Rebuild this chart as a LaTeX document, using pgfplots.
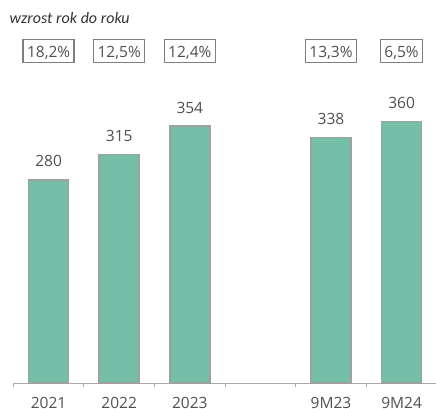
\documentclass[border=0pt]{standalone}
\usepackage{pgfplots}
\pgfplotsset{compat=1.18}
\usepackage{fontspec}
\setmainfont{Open Sans}
\newfontfamily\calfont{Carlito}
\definecolor{barfill}{RGB}{117,190,167}
\definecolor{bargray}{RGB}{160,160,160}
\definecolor{txtgray}{RGB}{80,80,80}
\definecolor{boxgray}{RGB}{127,127,127}
\definecolor{axgray}{RGB}{170,170,170}
\begin{document}
\begin{tikzpicture}
\useasboundingbox (0,0) rectangle (436pt,408pt);
\node[anchor=base west, inner sep=0pt, text=black!80] at (9.5pt,384pt) {\calfont\itshape\fontsize{16pt}{19pt}\selectfont wzrost rok do roku};
\begin{axis}[
  at={(13.3pt,25pt)}, anchor=south west,
  scale only axis, width=423.6pt, height=362.9pt,
  xmin=-0.5, xmax=5.5, ymin=0, ymax=500,
  axis x line*=bottom, axis y line=none,
  x axis line style={axgray, line width=0.9pt},
  xtick={0,1,2,3,4,5},
  xticklabels={2021,2022,2023,,9M23,9M24},
  major tick length=0pt,
  minor xtick={-0.5,0.5,1.5,2.5,3.5,4.5,5.5},
  minor tick length=4pt,
  tick align=outside,
  minor tick style={axgray, line width=0.9pt},
  xticklabel style={anchor=north, inner sep=0pt, yshift=-14pt, text=txtgray, font=\fontsize{15.5pt}{17pt}\selectfont},
  /pgf/number format/assume math mode=true,
  clip=false,
  ybar, bar width=40pt,
  nodes near coords,
  nodes near coords style={anchor=south, inner sep=0pt, yshift=12pt, text=txtgray, font=\fontsize{15.5pt}{17pt}\selectfont},
]
\addplot[fill=barfill, draw=bargray, line width=1.5pt] coordinates {(0,280) (1,315) (2,354) (4,338) (5,360)};
\foreach \xx/\lab in {0/{18,2\%},1/{12,5\%},2/{12,4\%},4/{13,3\%},5/{6,5\%}}{
  \edef\tmp{\noexpand\node[draw=boxgray, line width=1.4pt, text=txtgray, font=\noexpand\fontsize{15.5pt}{17pt}\noexpand\selectfont, text height=16.5pt, text depth=3.5pt, inner ysep=1.5pt, inner xsep=4pt, anchor=north] at (axis cs:\xx,474) {\lab};}
  \tmp
}
\end{axis}
\end{tikzpicture}
\end{document}
